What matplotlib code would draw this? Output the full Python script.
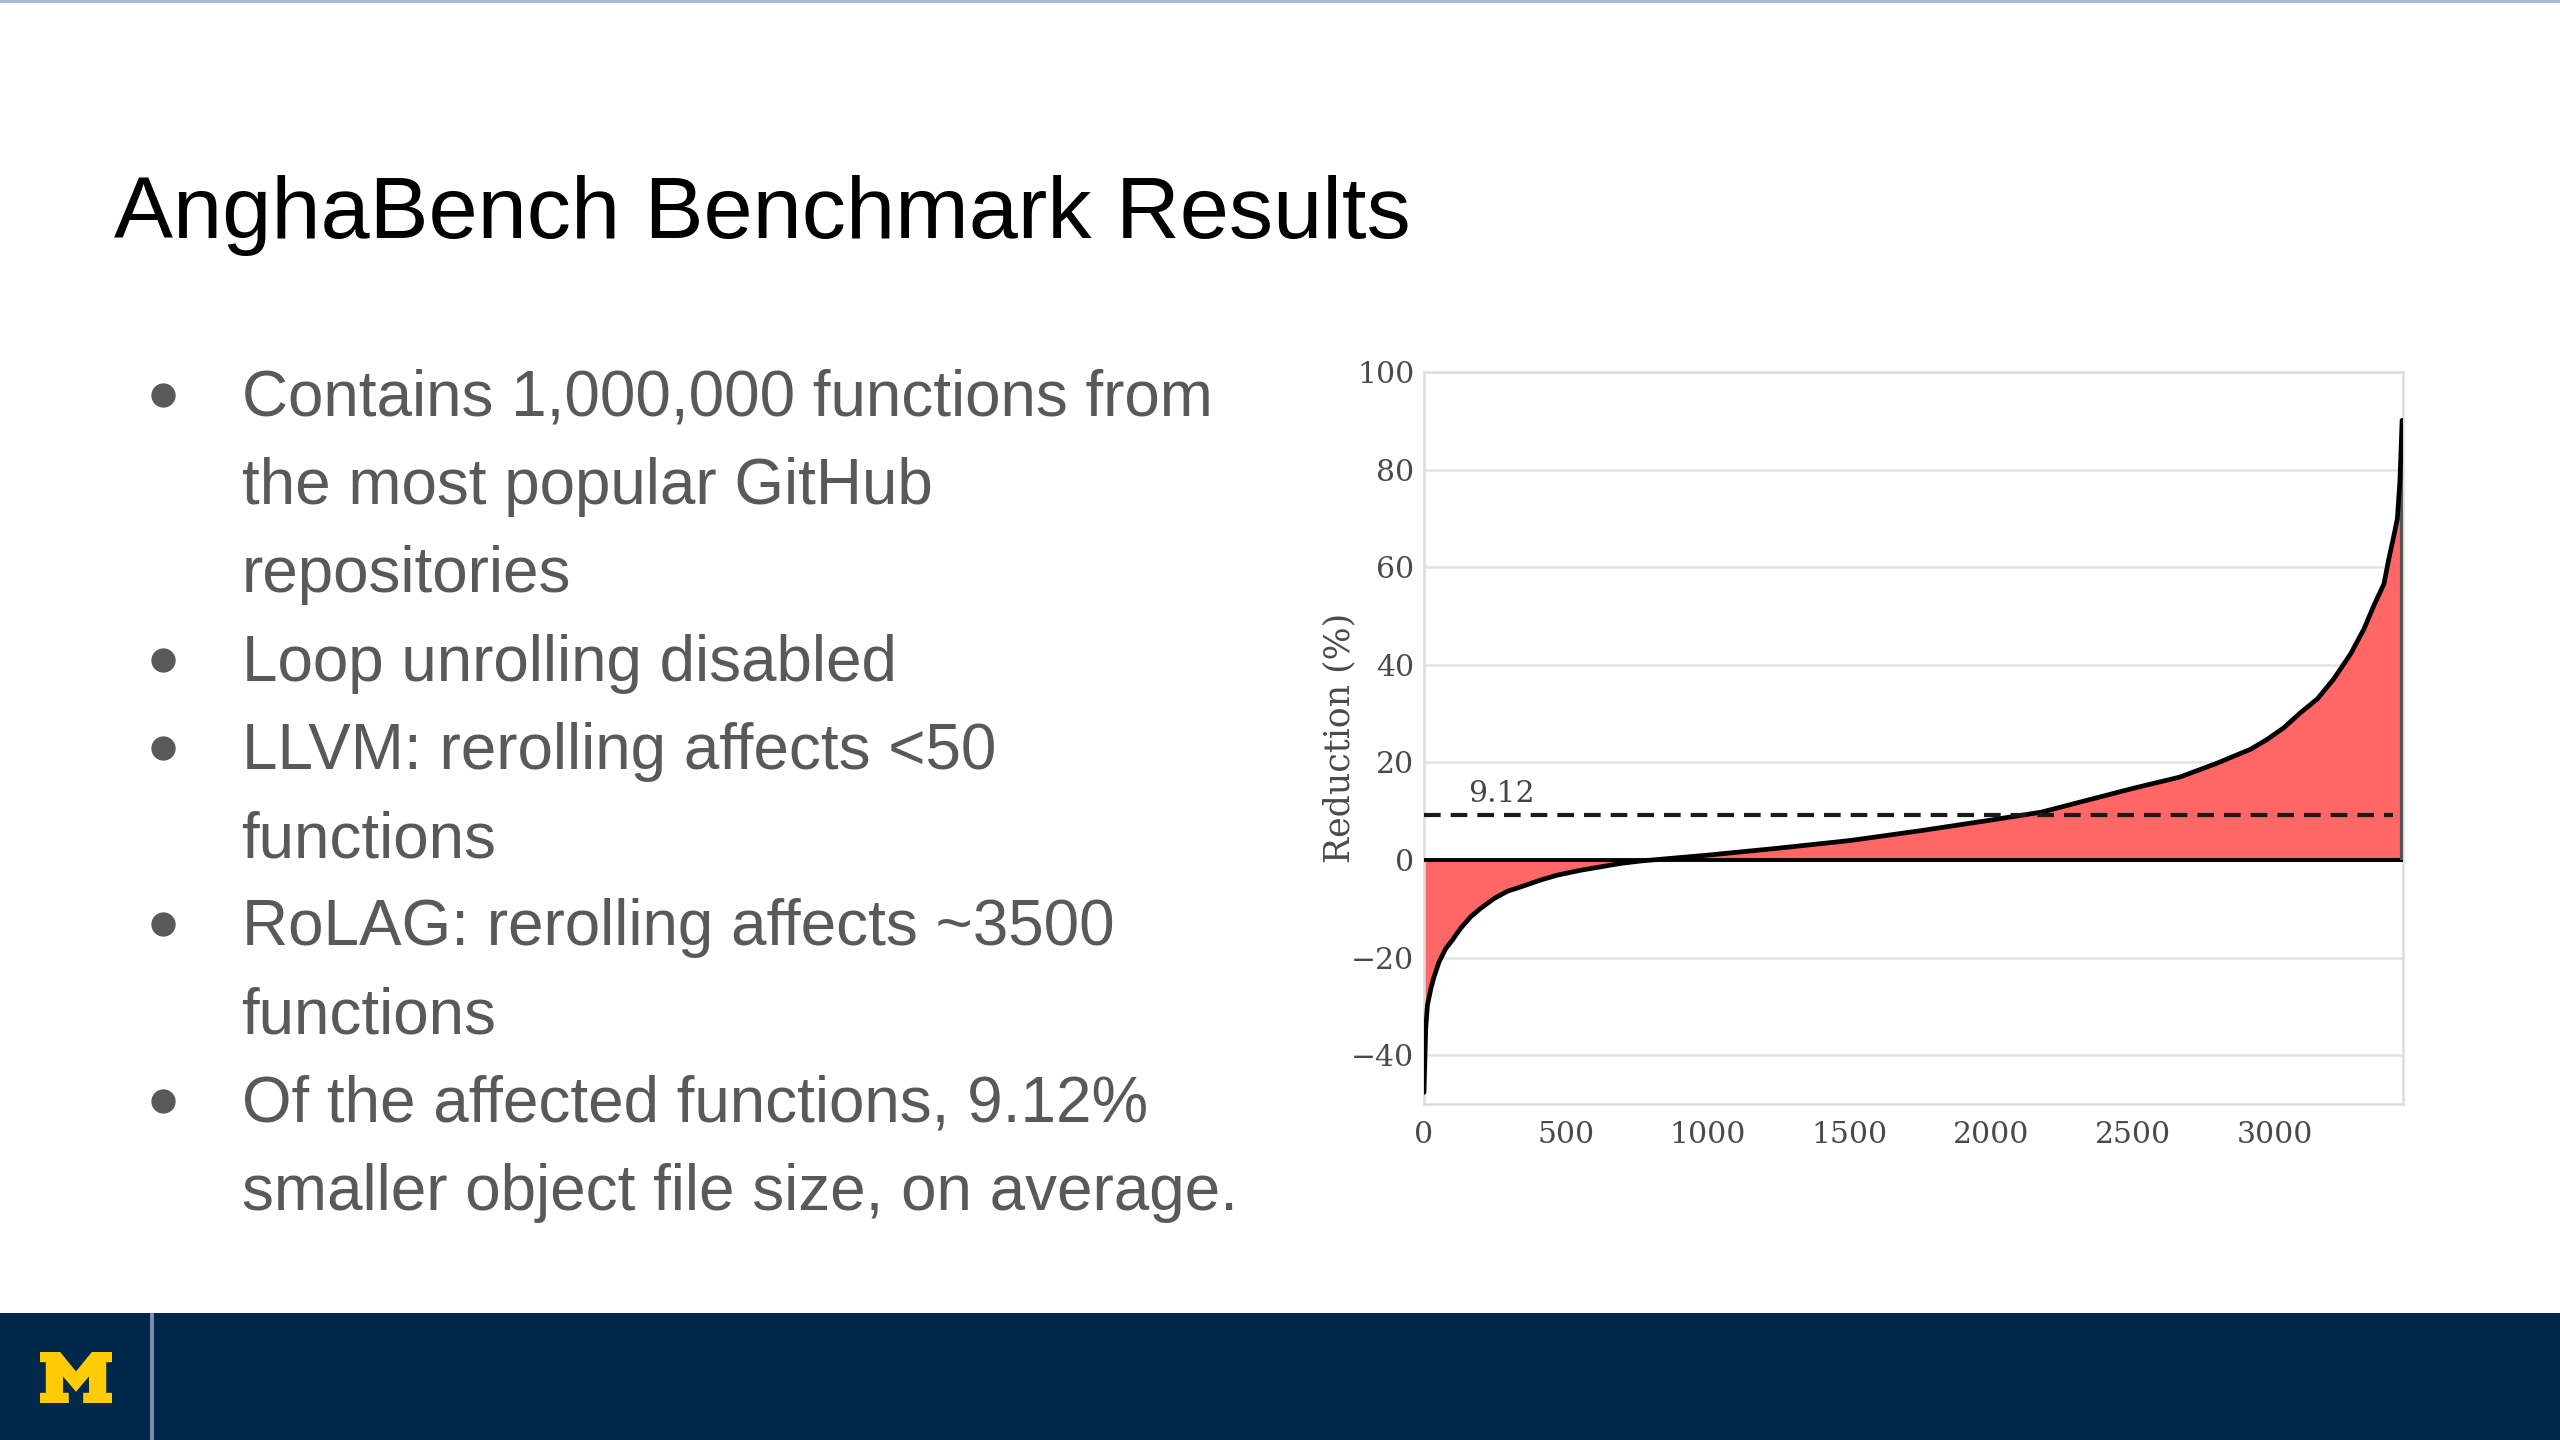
import matplotlib
matplotlib.use("Agg")
import matplotlib.pyplot as plt
from matplotlib.patches import Rectangle, Polygon
from matplotlib.lines import Line2D

# ---------------- data ----------------
func_index = [0, 6, 12, 24, 35, 53, 76, 100, 129, 165, 200, 247, 294, 352, 411,
              470, 552, 623, 693, 764, 823, 1000, 1245, 1503, 1761, 2000, 2175,
              2354, 2500, 2664, 2793, 2913, 2971, 3030, 3089, 3148, 3206, 3265,
              3312, 3347, 3383, 3400, 3418, 3430, 3439, 3447]
reduction_pct = [-47.6, -34.6, -29.8, -26.4, -24.0, -20.9, -18.2, -16.4, -14.0,
                 -11.6, -9.9, -7.9, -6.4, -5.3, -4.1, -3.1, -2.1, -1.4, -0.7,
                 -0.2, 0.1, 1.0, 2.4, 4.0, 6.1, 8.2, 9.8, 12.5, 14.7, 17.0, 19.8,
                 22.7, 24.7, 27.1, 30.2, 33.0, 37.1, 42.2, 47.3, 52.1, 56.6, 61.7,
                 66.5, 69.9, 77.5, 90.1]
mean_reduction = 9.12
n_functions = 3450
y_ticks = [-40, -20, 0, 20, 40, 60, 80, 100]
x_ticks = [0, 500, 1000, 1500, 2000, 2500, 3000]
y_label = "Reduction (%)"

title_text = "AnghaBench Benchmark Results"
text_lines = [
    "Contains 1,000,000 functions from",
    "the most popular GitHub",
    "repositories",
    "Loop unrolling disabled",
    "LLVM: rerolling affects <50",
    "functions",
    "RoLAG: rerolling affects ~3500",
    "functions",
    "Of the affected functions, 9.12%",
    "smaller object file size, on average.",
]
bullet_line_starts = [0, 3, 4, 6, 8]

# ---------------- figure ----------------
W, H = 2560, 1440
fig = plt.figure(figsize=(25.6, 14.4), dpi=100, facecolor="white")


def fx(px):
    return px / W


def fy(py):
    return 1 - py / H


# ---------------- chart ----------------
ax = fig.add_axes([fx(1424), fy(1104), fx(2403) - fx(1424), fy(372) - fy(1104)])
ax.set_facecolor("white")
ax.fill_between(func_index, reduction_pct, 0, color="#ff6666", lw=0,
                interpolate=True, zorder=2)
ax.axhline(0, color="black", lw=2.8, zorder=3)
ax.vlines(func_index[-1], 0, reduction_pct[-1], color="#555555", lw=3.0, zorder=3)
ax.plot(func_index, reduction_pct, color="black", lw=3.4, zorder=4,
        solid_joinstyle="round", solid_capstyle="round")
ax.axhline(mean_reduction, xmin=0, xmax=0.99, color="#1a1a1a", lw=3.0,
           dashes=(4.0, 2.4), zorder=5)
ax.text(155, mean_reduction + 2.8, f"{mean_reduction:.2f}", family="DejaVu Serif",
        fontsize=21.5, color="#444444", va="baseline", zorder=6)

ax.set_xlim(0, n_functions)
ax.set_ylim(-50, 100)
ax.set_yticks(y_ticks)
ax.set_xticks(x_ticks)
ax.grid(axis="y", color="#e3e3e3", lw=1.8)
ax.set_axisbelow(True)
for s in ax.spines.values():
    s.set_color("#dddddd")
    s.set_linewidth(1.8)
ax.tick_params(axis="both", length=0, labelsize=21.5, labelcolor="#4a4a4a")
ax.tick_params(axis="x", pad=12)
ax.tick_params(axis="y", pad=7)
for lbl in ax.get_xticklabels() + ax.get_yticklabels():
    lbl.set_family("DejaVu Serif")
ax.set_ylabel(y_label, family="DejaVu Serif", fontsize=25, color="#4a4a4a")
ax.yaxis.set_label_coords(-0.0695, 0.5)

# ---------------- slide decorations ----------------
# top thin line
fig.add_artist(Rectangle((0, fy(3)), 1, fy(0) - fy(3), transform=fig.transFigure,
                         facecolor="#a9bcd9", edgecolor="none"))
# bottom bar
fig.add_artist(Rectangle((0, 0), 1, fy(1313), transform=fig.transFigure,
                         facecolor="#00274c", edgecolor="none"))
fig.add_artist(Rectangle((fx(150), 0), fx(4), fy(1313), transform=fig.transFigure,
                         facecolor="#7d8fa9", edgecolor="none"))
# block M
m_shape = [(0.00, 0.00), (0.40, 0.00), (0.40, 0.20), (0.32, 0.20), (0.32, 0.52),
           (0.50, 0.22), (0.68, 0.52), (0.68, 0.20), (0.60, 0.20), (0.60, 0.00),
           (1.00, 0.00), (1.00, 0.20), (0.92, 0.20), (0.92, 0.80), (1.00, 0.80),
           (1.00, 1.00), (0.72, 1.00), (0.50, 0.62), (0.28, 1.00), (0.00, 1.00),
           (0.00, 0.80), (0.08, 0.80), (0.08, 0.20), (0.00, 0.20)]
m_pts = [(fx(40 + 72 * u), fy(1403 - 51 * v)) for u, v in m_shape]
fig.add_artist(Polygon(m_pts, closed=True, transform=fig.transFigure,
                       facecolor="#ffcb05", edgecolor="none"))

# ---------------- texts ----------------
fig.canvas.draw()
renderer = fig.canvas.get_renderer()

title = fig.text(fx(114), fy(238), title_text, fontsize=60,
                 family="Liberation Sans", color="black", va="baseline")
w = title.get_window_extent(renderer).width
title.set_fontsize(60 * 1298 / w)

probe = fig.text(0, 0, text_lines[0], fontsize=42, family="Liberation Sans")
w = probe.get_window_extent(renderer).width
probe.remove()
body_size = 42 * 971 / w

for k, line in enumerate(text_lines):
    base = 416 + 88.2 * k
    fig.text(fx(241.6), fy(base), line, fontsize=body_size,
             family="Liberation Sans", color="#595959", va="baseline")
    if k in bullet_line_starts:
        fig.add_artist(Line2D([fx(163)], [fy(base - 21)], marker="o",
                              markersize=16.5, color="#595959",
                              transform=fig.transFigure, linestyle="none"))

fig.savefig("out.png", dpi=100, facecolor="white")
